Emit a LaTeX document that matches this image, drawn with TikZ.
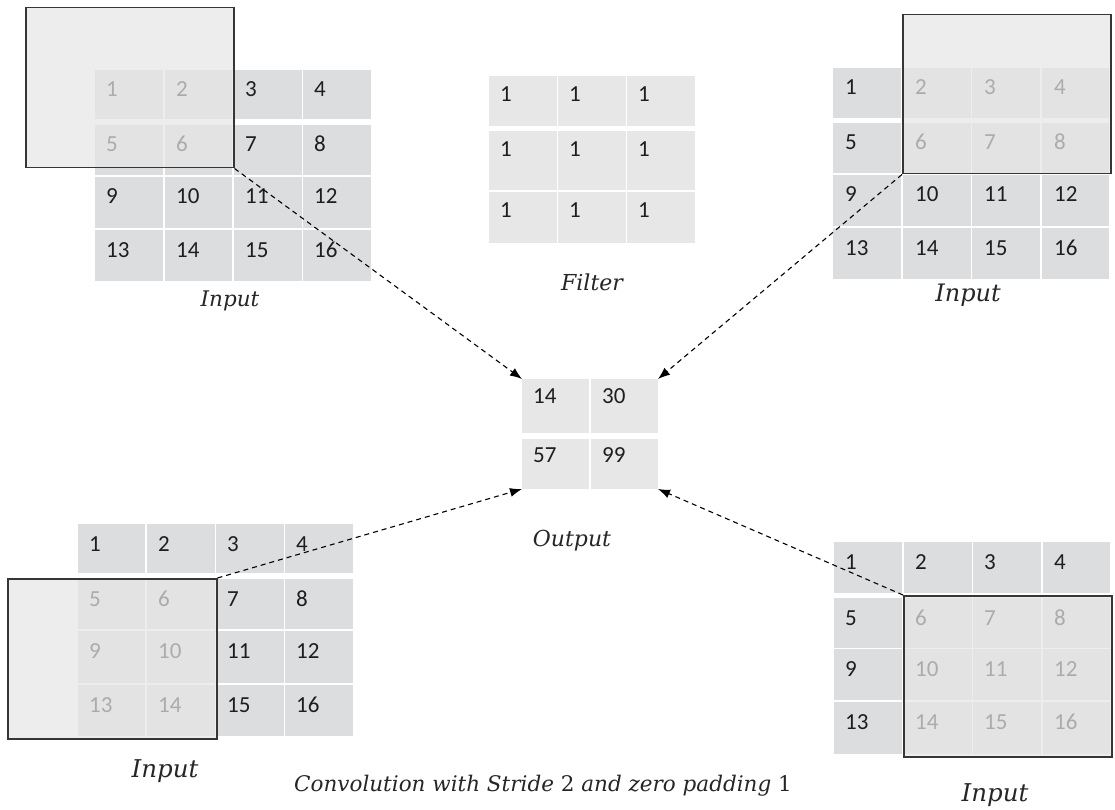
\documentclass[tikz,border=0pt]{standalone}
\usepackage{fontspec}
\setmainfont{Carlito}
\newfontfamily\lblfont{DejaVu Serif}
\usetikzlibrary{arrows.meta}
\definecolor{cellA}{HTML}{DCDDDF}
\definecolor{cellB}{HTML}{E7E7E8}
\definecolor{winfill}{HTML}{E6E6E6}
\definecolor{winline}{HTML}{363636}
\definecolor{numc}{HTML}{1E1E1E}
\tikzset{
  cellfillA/.style={fill=cellA},
  cellfillB/.style={fill=cellB},
  num/.style={anchor=base west, inner sep=0pt, text=numc, font=\fontsize{23}{23}\selectfont},
  win/.style={draw=winline, line width=1.5pt, fill=winfill, fill opacity=0.71, inner sep=0pt, anchor=north west},
  lbl/.style={inner sep=0pt, text=black!85},
  conn/.style={draw=black, line width=1.1pt, dash pattern=on 5pt off 4pt, -{Latex[length=12pt,width=9pt]}},
}
\begin{document}
\begin{tikzpicture}[x=1pt,y=-1pt]
\useasboundingbox (0,0) rectangle (1115,810);
% ---------- top-left input ----------
\foreach \x/\X [count=\i] in {95/163,165/232,234/302,303/371}
  \foreach \y/\Y [count=\j] in {70/119,125/175,177/228,230/281}{
    \fill[cellfillA] (\x,\y) rectangle (\X,\Y);
    \pgfmathtruncatemacro\n{(\j-1)*4+\i}
    \node[num] (tl-\n) at (\x+11,\y+27) {\n};
  }
\node[win, minimum width=208pt, minimum height=160pt] (w1) at (25,7) {};
\node[lbl, font=\lblfont\itshape\fontsize{21.5}{21.5}\selectfont] (lab1) at (230,301) {Input};
% ---------- filter ----------
\foreach \x/\X [count=\i] in {489/557,558/626,627/695}
  \foreach \y/\Y [count=\j] in {76/126,131/190,192/243}{
    \fill[cellfillB] (\x,\y) rectangle (\X,\Y);
    \node[num] (f-\i-\j) at (\x+11,\y+26) {1};
  }
\node[lbl, font=\lblfont\itshape\fontsize{22}{22}\selectfont] (labf) at (592,282) {Filter};
% ---------- top-right input ----------
\foreach \x/\X [count=\i] in {833/901,903/971,972/1040,1042/1109}
  \foreach \y/\Y [count=\j] in {68/118,123/173,175/226,228/279}{
    \fill[cellfillA] (\x,\y) rectangle (\X,\Y);
    \pgfmathtruncatemacro\n{(\j-1)*4+\i}
    \node[num] (tr-\n) at (\x+12,\y+27) {\n};
  }
\node[win, minimum width=208pt, minimum height=159pt] (w2) at (902,14) {};
\node[lbl, font=\lblfont\itshape\fontsize{24}{24}\selectfont] (lab2) at (968,295) {Input};
% ---------- output ----------
\fill[cellfillB] (522,379) rectangle (589,433);
\fill[cellfillB] (591,379) rectangle (658,433);
\fill[cellfillB] (522,439) rectangle (589,489);
\fill[cellfillB] (591,439) rectangle (658,489);
\node[num] (o1) at (533,403) {14};
\node[num] (o2) at (602,403) {30};
\node[num] (o3) at (533,462) {57};
\node[num] (o4) at (602,462) {99};
\coordinate (onw) at (522,379);
\coordinate (one) at (658,379);
\coordinate (osw) at (522,489);
\coordinate (ose) at (658,489);
\node[lbl, font=\lblfont\itshape\fontsize{22}{22}\selectfont] (labo) at (572,541) {Output};
% ---------- bottom-left input ----------
\foreach \x/\X [count=\i] in {78/145,147/215,216/284,285/353}
  \foreach \y/\Y [count=\j] in {524/573,579/629,631/683,685/736}{
    \fill[cellfillA] (\x,\y) rectangle (\X,\Y);
    \pgfmathtruncatemacro\n{(\j-1)*4+\i}
    \node[num] (bl-\n) at (\x+11,\y+27) {\n};
  }
\node[win, minimum width=209pt, minimum height=160pt] (w3) at (7,578) {};
\node[lbl, font=\lblfont\itshape\fontsize{24.5}{24.5}\selectfont] (lab3) at (165,771) {Input};
% ---------- bottom-right input ----------
\foreach \x/\X [count=\i] in {834/902,904/972,973/1041,1043/1110}
  \foreach \y/\Y [count=\j] in {542/593,598/648,649/700,702/754}{
    \fill[cellfillA] (\x,\y) rectangle (\X,\Y);
    \pgfmathtruncatemacro\n{(\j-1)*4+\i}
    \node[num] (br-\n) at (\x+11,\y+27) {\n};
  }
\node[win, minimum width=208pt, minimum height=161pt] (w4) at (903,595) {};
\node[lbl, font=\lblfont\itshape\fontsize{24.5}{24.5}\selectfont] (lab4) at (995,795) {Input};
% ---------- caption ----------
\node[lbl, font=\lblfont\fontsize{21.5}{21.5}\selectfont] (cap) at (543,786) {\itshape Convolution with Stride \upshape 2 \itshape and zero padding \upshape 1};
% ---------- connectors ----------
\draw[conn] (w1.south east) -- (onw);
\draw[conn] (w2.south west) -- (one);
\draw[conn] (w3.north east) -- (osw);
\draw[conn] (w4.north west) -- (ose);
\end{tikzpicture}
\end{document}
